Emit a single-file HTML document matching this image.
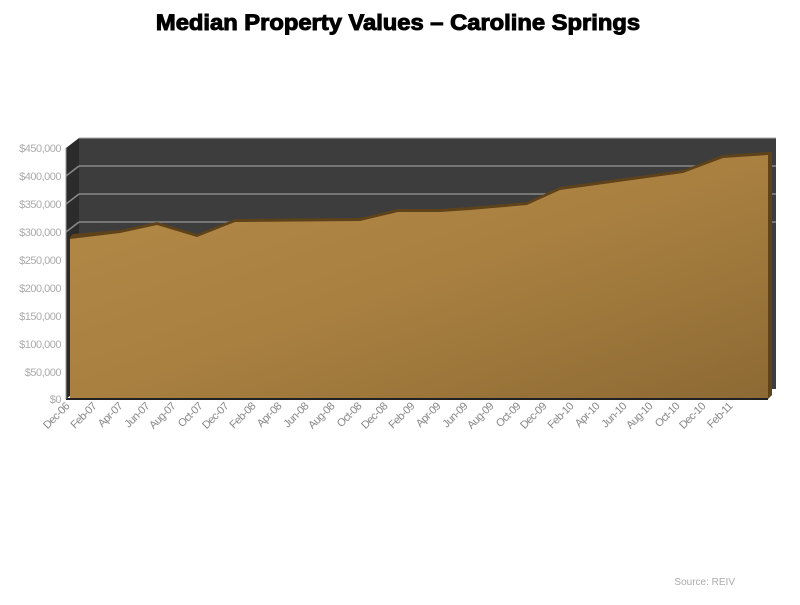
<!DOCTYPE html>
<html><head><style>
body{margin:0;width:800px;height:600px;background:#fff;overflow:hidden;font-family:"Liberation Sans",sans-serif}
</style></head><body>
<svg width="800" height="600" xmlns="http://www.w3.org/2000/svg">
<defs>
<linearGradient id="g" x1="0" y1="0" x2="1" y2="1">
<stop offset="0" stop-color="#b48a48"/><stop offset="0.5" stop-color="#a98040"/><stop offset="1" stop-color="#8d6a34"/>
</linearGradient>
</defs>
<text x="398" y="30" text-anchor="middle" font-size="22" font-weight="900" fill="#000" stroke="#000" stroke-width="1" transform="translate(398,0) scale(1.08,1) translate(-398,0)">Median Property Values – Caroline Springs</text>
<rect x="79" y="138" width="697" height="251" fill="#3d3d3d"/>
<polygon points="66,148 79,138 79,389 66,399" fill="#2b2b2b"/>
<g stroke="#8a8a8a" stroke-width="1.5">
<line x1="79" y1="166" x2="776" y2="166"/><line x1="79" y1="194" x2="776" y2="194"/>
<line x1="79" y1="222" x2="776" y2="222"/>
<line x1="66" y1="176" x2="79" y2="166"/><line x1="66" y1="204" x2="79" y2="194"/><line x1="66" y1="232" x2="79" y2="222"/>
</g>
<line x1="79" y1="138" x2="776" y2="138" stroke="#aaa"/>
<polygon points="70,237 73,234 120,230 157,222 197,234 235,219 360,218 398,209 440,209 470,207 527,202 560,187 683,170 723,155 768,152 772,152 772,395 768,399 70,399" fill="#5e4219"/>
<polygon points="70,239 120,233 157,225 197,237 235,222 360,221 398,212 440,212 470,210 527,205 560,190 683,173 723,158 768,155 768,399 70,399" fill="url(#g)"/>
<line x1="66" y1="399" x2="768" y2="399" stroke="#222" stroke-width="2"/>
<line x1="66" y1="148" x2="66" y2="399" stroke="#999"/>
<g font-size="11" fill="#aaa" text-anchor="end" letter-spacing="-0.5">
<text x="61" y="152">$450,000</text><text x="61" y="180">$400,000</text><text x="61" y="208">$350,000</text>
<text x="61" y="236">$300,000</text><text x="61" y="264">$250,000</text><text x="61" y="292">$200,000</text>
<text x="61" y="320">$150,000</text><text x="61" y="348">$100,000</text><text x="61" y="376">$50,000</text>
<text x="61" y="403">$0</text>
</g>
<g font-size="11" fill="#888" text-anchor="end" letter-spacing="-0.6">
<text transform="translate(70,407) rotate(-45)">Dec-06</text>
<text transform="translate(97,407) rotate(-45)">Feb-07</text>
<text transform="translate(123,407) rotate(-45)">Apr-07</text>
<text transform="translate(150,407) rotate(-45)">Jun-07</text>
<text transform="translate(176,407) rotate(-45)">Aug-07</text>
<text transform="translate(203,407) rotate(-45)">Oct-07</text>
<text transform="translate(229,407) rotate(-45)">Dec-07</text>
<text transform="translate(256,407) rotate(-45)">Feb-08</text>
<text transform="translate(282,407) rotate(-45)">Apr-08</text>
<text transform="translate(309,407) rotate(-45)">Jun-08</text>
<text transform="translate(335,407) rotate(-45)">Aug-08</text>
<text transform="translate(362,407) rotate(-45)">Oct-08</text>
<text transform="translate(388,407) rotate(-45)">Dec-08</text>
<text transform="translate(415,407) rotate(-45)">Feb-09</text>
<text transform="translate(441,407) rotate(-45)">Apr-09</text>
<text transform="translate(468,407) rotate(-45)">Jun-09</text>
<text transform="translate(494,407) rotate(-45)">Aug-09</text>
<text transform="translate(521,407) rotate(-45)">Oct-09</text>
<text transform="translate(547,407) rotate(-45)">Dec-09</text>
<text transform="translate(574,407) rotate(-45)">Feb-10</text>
<text transform="translate(600,407) rotate(-45)">Apr-10</text>
<text transform="translate(627,407) rotate(-45)">Jun-10</text>
<text transform="translate(653,407) rotate(-45)">Aug-10</text>
<text transform="translate(680,407) rotate(-45)">Oct-10</text>
<text transform="translate(706,407) rotate(-45)">Dec-10</text>
<text transform="translate(733,407) rotate(-45)">Feb-11</text>
</g>
<text x="735" y="585" text-anchor="end" font-size="10" fill="#aaa">Source: REIV</text>
</svg>
</body></html>
